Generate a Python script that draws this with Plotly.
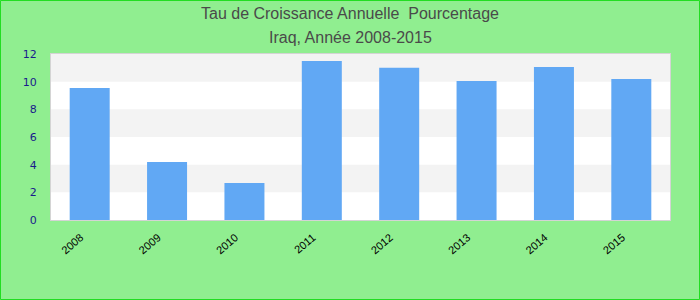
import plotly.graph_objects as go

years = ["2008", "2009", "2010", "2011", "2012", "2013", "2014", "2015"]
values = [9.55, 4.2, 2.68, 11.5, 11.0, 10.05, 11.06, 10.2]
y_ticks = [0, 2, 4, 6, 8, 10, 12]
title_line1 = "Tau de Croissance Annuelle  Pourcentage"
title_line2 = "Iraq, Année 2008-2015"

W, H = 700, 300
ml, mr, mt, mb = 51, 30, 54, 80
pw, ph = W - ml - mr, H - mt - mb

fig = go.Figure()
fig.add_trace(go.Bar(x=years, y=values, marker=dict(color="#61a8f4", line=dict(width=0)),
                     hoverinfo="x+y"))

shapes = []
# alternating bands (gray on every other interval, starting at 2-4)
for i in range(1, len(y_ticks) - 1, 2):
    shapes.append(dict(type="rect", xref="paper", yref="y", x0=0, x1=1,
                       y0=y_ticks[i], y1=y_ticks[i + 1], fillcolor="#f3f3f3",
                       line=dict(width=0), layer="below"))
# outer border
shapes.append(dict(type="rect", xref="paper", yref="paper",
                   x0=(0.5 - ml) / pw, x1=(W - 0.5 - ml) / pw,
                   y0=-(H - 0.5 - mt - ph) / ph, y1=(ph + mt - 0.5) / ph,
                   line=dict(color="#22dd22", width=1), fillcolor="rgba(0,0,0,0)"))

fig.update_layout(
    width=W, height=H,
    margin=dict(l=ml, r=mr, t=mt, b=mb),
    paper_bgcolor="#90ee90",
    plot_bgcolor="#ffffff",
    bargap=0.483,
    showlegend=False,
    shapes=shapes,
    annotations=[
        dict(text=title_line1, xref="paper", yref="paper", x=(350 - ml) / pw,
             y=(mt + ph - 13) / ph, xanchor="center", yanchor="middle", showarrow=False,
             font=dict(family="Liberation Sans, Arial", size=16, color="#4a4a4a")),
        dict(text=title_line2, xref="paper", yref="paper", x=(350 - ml) / pw,
             y=(mt + ph - 38) / ph, xanchor="center", yanchor="middle", showarrow=False,
             font=dict(family="Liberation Sans, Arial", size=16, color="#4a4a4a")),
    ],
    xaxis=dict(
        type="category", tickangle=-40,
        tickfont=dict(family="Liberation Sans, Arial", size=11, color="#000000"),
        showgrid=False, zeroline=False, ticks="",
        showline=True, linecolor="#d4d4d4", linewidth=1, mirror=True,
        ticklabelstandoff=6, ticklabelshift=-9,
    ),
    yaxis=dict(
        range=[0, 12], tickvals=y_ticks,
        tickfont=dict(family="DejaVu Sans", size=11, color="#1a1a8c"),
        showgrid=False, zeroline=False, ticks="",
        showline=True, linecolor="#d4d4d4", linewidth=1, mirror=True,
        ticklabelstandoff=11,
    ),
)

fig.write_html("out.html")
